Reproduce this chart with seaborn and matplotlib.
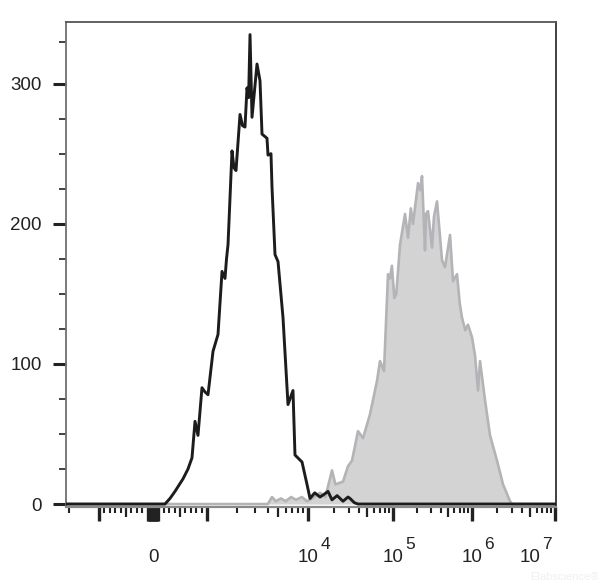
import numpy as np
import pandas as pd
import matplotlib
matplotlib.use("Agg")
import matplotlib.pyplot as plt
from matplotlib import transforms
import seaborn as sns

# ---------------- data ----------------
# Unstained / isotype control (black outline histogram)
black_x = [-2122, 150, 222, 315, 407, 556, 648, 722, 778, 833, 907, 963,
           1023, 1147, 1285, 1408, 1507, 1560, 1614, 1768, 1850, 1937, 2122,
           2250, 2377, 2489, 2580, 2666, 2790, 3126, 3348, 3504, 3926, 4018,
           4300, 4401, 4713, 5048, 5655, 6336, 7101, 7430, 8721, 9775, 10556,
           12000, 13840, 15500, 17190, 19150, 22000, 25800, 29560, 31190,
           35000, 38730, 1.028e7]
black_y = [0, 0, 0, 4, 9, 18, 25, 33, 59, 49, 83, 80,
           78, 109, 121, 166, 161, 175, 185, 252, 240, 238, 278,
           270, 269, 297, 290, 335, 276, 314, 302, 264, 261, 249,
           250, 226, 178, 173, 133, 71, 81, 35, 30, 14, 4,
           8, 5, 7, 9, 3, 6, 2, 5, 4,
           1, 0, 0]

# Stained sample (grey filled histogram)
grey_x = [-2122, 4000, 4401, 4800, 5400, 6000, 6800, 7600, 8700, 9775, 10556,
          13840, 16000, 19150, 21000, 25800, 29560, 32930, 38730, 44370,
          53580, 64870, 70340, 78360, 87330, 92200, 97000, 104000, 110000,
          122650, 141900, 155000, 168000, 179100, 207300, 222000, 232800,
          254100, 262000, 277500, 311600, 330000, 360600, 417300, 455000,
          526700, 574900, 645500, 700000, 746900, 820000, 889200, 1000000,
          1087000, 1181000, 1249000, 1435000, 1648000, 2000000, 2364000,
          2871000, 3034000, 1.028e7]
grey_y = [0, 0, 5, 2, 4, 2, 5, 3, 5, 2, 3,
          8, 5, 24, 14, 16, 27, 31, 52, 47,
          64, 88, 102, 95, 164, 161, 170, 147, 150,
          185, 207, 190, 211, 200, 229, 224, 234,
          181, 207, 209, 183, 205, 216, 174, 169,
          192, 159, 164, 143, 133, 124, 128, 119,
          106, 81, 102, 74, 49, 31, 14,
          2, 0, 0]

y_major = [0, 100, 200, 300]
y_minor = [25, 50, 75, 125, 150, 175, 225, 250, 275, 330]

x_long = [-1000, 0, 1000, 1e4, 1e5, 1e6, 1e7]
x_block = [-100, -80, -60, -40, -20, 20, 40, 60, 80, 100]
x_medium = [-500, 500, 5e3, 5e4, 5e5, 5e6]
x_short = ([-2000, -900, -800, -700, -600, -400, -300, -200,
            200, 300, 400, 600, 700, 800, 900]
           + [k * 10 ** d for d in range(3, 7) for k in (2, 3, 4, 6, 7, 8, 9)])

x_labels = [(0, "0", None), (1e4, "10", "4"), (1e5, "10", "5"),
            (1e6, "10", "6"), (1e7, "10", "7")]

# ---------------- biexponential-like display scale ----------------
DEC = np.array([3.0, 4.0, 5.0, 6.0, 7.0, 8.0])
POS = np.array([54.0, 155.0, 240.0, 319.0, 402.0, 485.0])
LIN = 0.054


def fwd(v):
    v = np.asarray(v, dtype=float)
    a = np.abs(v)
    lg = np.interp(np.log10(np.maximum(a, 1.0)), DEC, POS)
    return np.sign(v) * np.where(a <= 1000, a * LIN, lg)


def inv(u):
    u = np.asarray(u, dtype=float)
    a = np.abs(u)
    lg = 10 ** np.interp(a, POS, DEC)
    return np.sign(u) * np.where(a <= 54, a / LIN, lg)


# ---------------- plot ----------------
sns.set_theme(style="ticks")
plt.rcParams["font.family"] = ["Liberation Sans", "DejaVu Sans"]

fig = plt.figure(figsize=(6, 5.83), dpi=100)
ax = fig.add_axes([0.11, 0.1304, 0.8167, 0.8319])
ax.set_xscale("function", functions=(fwd, inv))

grey = pd.DataFrame({"x": grey_x, "y": grey_y})
black = pd.DataFrame({"x": black_x, "y": black_y})

ax.fill_between(grey["x"], grey["y"], 0, color="#d3d3d3", lw=0, zorder=1)
sns.lineplot(data=grey, x="x", y="y", ax=ax, color="#b4b4b8", lw=1.9,
             estimator=None, sort=False, zorder=2)
sns.lineplot(data=black, x="x", y="y", ax=ax, color="#1c1c1c", lw=2.1,
             estimator=None, sort=False, zorder=3)

ax.set_xlim(float(inv(-87)), float(inv(403)))
ax.set_ylim(-2.1, 344)
ax.set_xlabel("")
ax.set_ylabel("")

# spines
for side, col, w in (("left", "#707070", 1.3), ("top", "#555555", 1.3),
                     ("right", "#333333", 1.3), ("bottom", "#8a8a8a", 1.6)):
    ax.spines[side].set_visible(True)
    ax.spines[side].set_color(col)
    ax.spines[side].set_linewidth(w)

# y ticks
ax.set_yticks(y_major)
ax.set_yticks(y_minor, minor=True)
ax.set_yticklabels([str(v) for v in y_major])
ax.tick_params(axis="y", which="major", length=9.5, width=2.2, color="#222222",
               labelsize=13.5, labelcolor="#222222", pad=8)
ax.tick_params(axis="y", which="minor", length=5, width=1.2, color="#222222")

# x ticks (three lengths)
all_x = x_long + x_block + x_medium + x_short
sizes = ([(10, 2.4)] * len(x_long) + [(10, 2.4)] * len(x_block)
         + [(7, 1.6)] * len(x_medium) + [(4.5, 1.5)] * len(x_short))
ax.set_xticks(all_x)
ax.set_xticklabels([""] * len(all_x))
ax.xaxis.set_minor_locator(matplotlib.ticker.NullLocator())
ax.tick_params(axis="x", which="major", color="#222222", direction="out")
for tick, (ln, wd) in zip(ax.xaxis.get_major_ticks(len(all_x)), sizes):
    tick.tick1line.set_markersize(ln)
    tick.tick1line.set_markeredgewidth(wd)

# x tick labels with raised exponents
blend = transforms.blended_transform_factory(ax.transData, ax.transAxes)
for val, base, sup in x_labels:
    shift = -25 if val >= 1e7 else 0
    tb = transforms.offset_copy(blend, fig=fig, x=shift, y=0, units="dots")
    ax.text(val, -0.105, base, transform=tb, ha="center", va="center",
            fontsize=13.5, color="#222222", clip_on=False)
    if sup:
        ts = transforms.offset_copy(blend, fig=fig, x=shift + 17, y=0, units="dots")
        ax.text(val, -0.078, sup, transform=ts, ha="center", va="center",
                fontsize=12.5, color="#222222", clip_on=False)

fig.text(0.997, 0.002, "Elabscience\u00ae", ha="right", va="bottom",
         fontsize=8, color="#f0f0f0")

fig.savefig("out.png", dpi=100)
